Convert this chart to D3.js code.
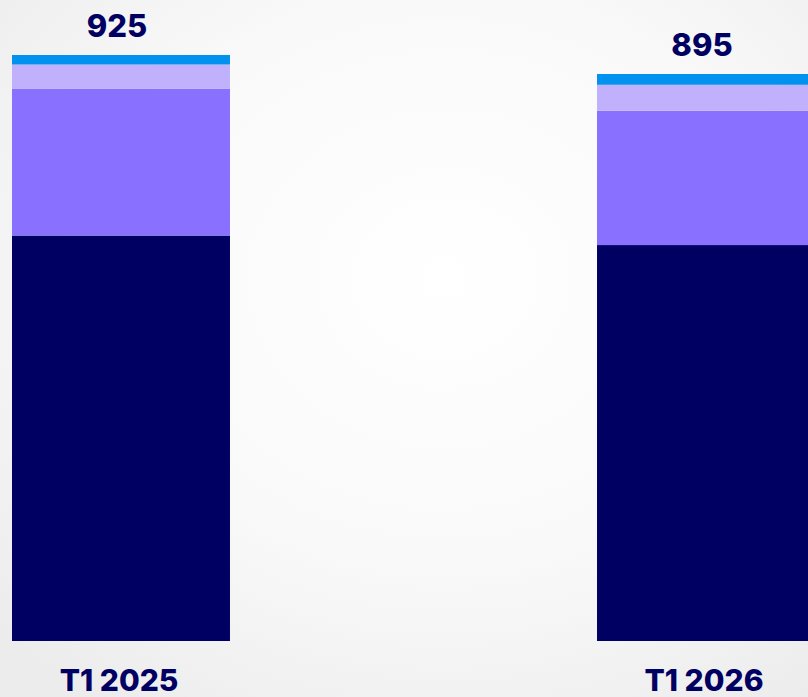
<!DOCTYPE html>
<html><head><meta charset="utf-8">
<script src="https://cdn.jsdelivr.net/npm/d3@7"></script>
<style>html,body{margin:0;padding:0;overflow:hidden;background:#fff}</style>
</head><body>
<script>
const categories = ["T1 2025", "T1 2026"];
const seriesNames = ["s1", "s2", "s3", "s4"];
const s1 = [640, 625];
const s2 = [232, 212];
const s3 = [38, 41];
const s4 = [15, 17];
const totals = [925, 895];
const colors = ["#000062", "#8a70ff", "#c1b1fd", "#0092ee"];

const W = 808, H = 697;
const svg = d3.select("body").append("svg").attr("width", W).attr("height", H);
const defs = svg.append("defs");
const rg = defs.append("radialGradient").attr("id", "bg").attr("cx", "55%").attr("cy", "40%").attr("r", "75%");
rg.append("stop").attr("offset", "0%").attr("stop-color", "#ffffff");
rg.append("stop").attr("offset", "55%").attr("stop-color", "#f9f9f9");
rg.append("stop").attr("offset", "100%").attr("stop-color", "#ececec");
svg.append("rect").attr("width", W).attr("height", H).attr("fill", "url(#bg)");

const rows = categories.map((c, i) => ({cat: c, s1: s1[i], s2: s2[i], s3: s3[i], s4: s4[i]}));
const stack = d3.stack().keys(seriesNames)(rows);

const x = d3.scaleBand().domain(categories).range([12, 815]).paddingInner(0.6274).paddingOuter(0);
const y = d3.scaleLinear().domain([0, 925]).range([641, 55]);

const g = svg.append("g");
g.selectAll("g.layer").data(stack).join("g").attr("class", "layer")
  .attr("fill", (d, i) => colors[i])
  .selectAll("rect").data(d => d).join("rect")
  .attr("x", d => x(d.data.cat))
  .attr("width", x.bandwidth())
  .attr("y", d => y(d[1]))
  .attr("height", d => y(d[0]) - y(d[1]));

svg.selectAll("text.total").data(categories).join("text")
  .attr("class", "total")
  .attr("x", d => x(d) + x.bandwidth() / 2 - 4)
  .attr("y", (d, i) => y(totals[i]) - 18)
  .attr("text-anchor", "middle")
  .attr("font-family", "Inter, 'Open Sans', sans-serif")
  .attr("font-weight", 800)
  .attr("font-size", 31)
  .attr("fill", "#000062")
  .text((d, i) => totals[i]);

svg.selectAll("text.cat").data(categories).join("text")
  .attr("class", "cat")
  .attr("x", d => x(d) + x.bandwidth() / 2 - 2)
  .attr("y", 691)
  .attr("text-anchor", "middle")
  .attr("font-family", "Inter, 'Open Sans', sans-serif")
  .attr("font-weight", 800)
  .attr("font-size", 30)
  .attr("fill", "#000062")
  .text(d => d);
</script>
</body></html>
